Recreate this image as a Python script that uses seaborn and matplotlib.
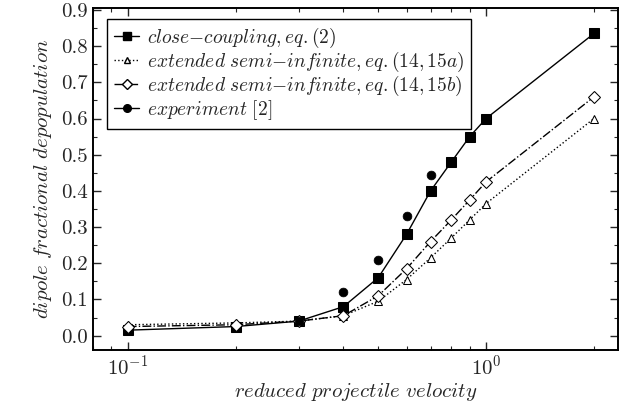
import matplotlib.pyplot as plt
import pandas as pd
import seaborn as sns
from matplotlib.lines import Line2D
from matplotlib.ticker import MultipleLocator

# velocity grid used by the calculations
velocity = [0.1, 0.2, 0.3, 0.4, 0.5, 0.6, 0.7, 0.8, 0.9, 1.0, 2.0]
close_coupling = [0.015, 0.025, 0.04, 0.08, 0.16, 0.28, 0.40, 0.48, 0.55, 0.60, 0.835]
semi_inf_a = [0.03, 0.035, 0.04, 0.055, 0.095, 0.155, 0.215, 0.27, 0.32, 0.365, 0.60]
semi_inf_b = [0.025, 0.03, 0.04, 0.055, 0.11, 0.185, 0.26, 0.32, 0.375, 0.425, 0.66]

# measured points
exp_velocity = [0.3, 0.4, 0.5, 0.6, 0.7]
experiment = [0.04, 0.12, 0.21, 0.33, 0.445]

labels = [
    r"$close{-}coupling, eq.(2)$",
    r"$extended\ semi{-}infinite, eq.(14,15a)$",
    r"$extended\ semi{-}infinite, eq.(14,15b)$",
    r"$experiment\ [2]$",
]

calc = pd.DataFrame({"v": velocity, "cc": close_coupling, "a": semi_inf_a, "b": semi_inf_b})
meas = pd.DataFrame({"v": exp_velocity, "y": experiment})

sns.set_style("ticks")
plt.rcParams["mathtext.fontset"] = "cm"
plt.rcParams["font.family"] = "serif"
plt.rcParams["font.serif"] = ["cmr10", "DejaVu Serif"]
plt.rcParams["axes.formatter.use_mathtext"] = True

fig = plt.figure(figsize=(6.24, 4.08), dpi=100)
ax = fig.add_axes([0.149, 0.142, 0.841, 0.838])

sns.lineplot(data=calc, x="v", y="cc", ax=ax, color="black", lw=1, marker="s",
             markersize=6.5, markeredgecolor="black")
sns.lineplot(data=calc, x="v", y="a", ax=ax, color="black", lw=1, linestyle=":",
             marker="^", markersize=6, markerfacecolor="white", markeredgecolor="black")
sns.lineplot(data=calc, x="v", y="b", ax=ax, color="black", lw=1, linestyle="-.",
             marker="D", markersize=6, markerfacecolor="white", markeredgecolor="black")
sns.scatterplot(data=meas, x="v", y="y", ax=ax, color="black", s=40, marker="o",
                edgecolor="black", zorder=5)

ax.set_xscale("log")
ax.set_xlim(0.08, 2.33)
ax.set_ylim(-0.04, 0.905)
ax.yaxis.set_major_locator(MultipleLocator(0.1))
ax.yaxis.set_minor_locator(MultipleLocator(0.05))
ax.yaxis.set_major_formatter(lambda v, p: f"{v:.1f}")

ax.tick_params(which="both", direction="in", top=True, right=True, labelsize=15)
ax.tick_params(which="major", length=6, width=1)
ax.tick_params(which="minor", length=3, width=0.8)
ax.tick_params(axis="x", which="major", pad=3)
for s in ax.spines.values():
    s.set_linewidth(1.4)
    s.set_color("black")

ax.set_xlabel(r"$reduced\ projectile\ velocity$", fontsize=15, labelpad=2)
ax.set_ylabel(r"$dipole\ fractional\ depopulation$", fontsize=15, labelpad=5)

handles = [
    Line2D([], [], color="black", lw=1, marker="s", markersize=6),
    Line2D([], [], color="black", lw=1, ls=":", marker="^", markersize=5, mfc="white"),
    Line2D([], [], color="black", lw=1, ls="-.", marker="D", markersize=5, mfc="white"),
    Line2D([], [], color="black", lw=1, marker="o", markersize=5.5),
]
leg = ax.legend(handles, labels, loc="upper left", bbox_to_anchor=(0.027, 0.968),
                fontsize=14, fancybox=False, framealpha=1, edgecolor="black",
                handlelength=1.3, handletextpad=0.4, labelspacing=0.0,
                borderpad=0.35, borderaxespad=0)
leg.get_frame().set_linewidth(1)

fig.savefig("out.png", dpi=100)
